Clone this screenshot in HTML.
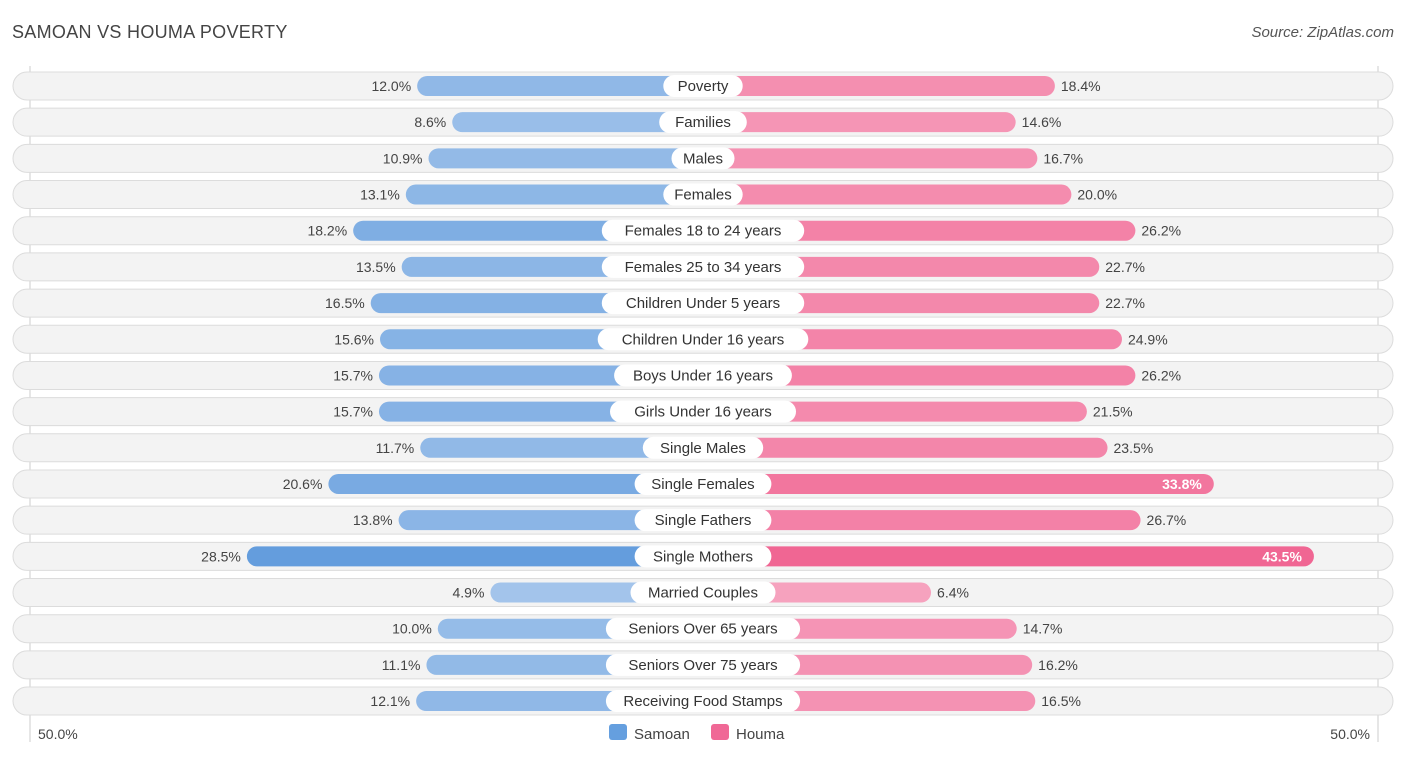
<!DOCTYPE html>
<html><head><meta charset="utf-8"><style>
body{margin:0;background:#fff;font-family:"Liberation Sans",sans-serif;}
#wrap{position:relative;width:1406px;height:758px;}
.title{position:absolute;left:12px;top:22px;font-size:18px;color:#444;letter-spacing:0.3px}
.src{position:absolute;right:12px;top:24px;font-size:15px;color:#555;font-style:italic}
</style></head><body><div id="wrap">
<div class="title">SAMOAN VS HOUMA POVERTY</div>
<div class="src">Source: ZipAtlas.com</div>
<svg id="svg" width="1406" height="758" style="position:absolute;left:0;top:0"></svg>
</div>
<script>
const categories=["Poverty","Families","Males","Females","Females 18 to 24 years","Females 25 to 34 years","Children Under 5 years","Children Under 16 years","Boys Under 16 years","Girls Under 16 years","Single Males","Single Females","Single Fathers","Single Mothers","Married Couples","Seniors Over 65 years","Seniors Over 75 years","Receiving Food Stamps"];
const samoan=[12.0,8.6,10.9,13.1,18.2,13.5,16.5,15.6,15.7,15.7,11.7,20.6,13.8,28.5,4.9,10.0,11.1,12.1];
const houma=[18.4,14.6,16.7,20.0,26.2,22.7,22.7,24.9,26.2,21.5,23.5,33.8,26.7,43.5,6.4,14.7,16.2,16.5];
const axisLabels=["50.0%","50.0%"];
const NS="http://www.w3.org/2000/svg";
const svg=document.getElementById('svg');
const cx=703,off=162,scale=10.32,y0=86,step=36.18;
function xL(v){return cx-off-v*scale;}
function xR(v){return cx+off+v*scale;}
function yRow(i){return y0+i*step;}
function mk(tag,attrs,parent){const e=document.createElementNS(NS,tag);for(const k in attrs)e.setAttribute(k,attrs[k]);(parent||svg).appendChild(e);return e;}
function mix(a,b,t){return 'rgb('+a.map((c,i)=>Math.round(c+(b[i]-c)*t)).join(',')+')';}
const line=mk('line',{x1:30,x2:30,y1:66,y2:742,stroke:'#ccc','stroke-width':1});

const line2=mk('line',{x1:1378,x2:1378,y1:66,y2:742,stroke:'#ccc','stroke-width':1});

categories.forEach((c,i)=>{
  const y=yRow(i);
  const g=mk('g',{});
  
  
  const bg=mk('rect',{x:13,y:y-14,width:1380,height:28,rx:14,fill:'#f3f3f3',stroke:'#dcdcdc','stroke-width':1},g);
  
  const s=samoan[i],h=houma[i];
  const bl=mk('rect',{x:xL(s),y:y-10,width:(cx-xL(s)),height:20,rx:10,fill:mix([176,204,238],[96,155,220],Math.min(1,s/30))},g);
  
  const br=mk('rect',{x:cx,y:y-10,width:xR(h)-cx,height:20,rx:10,fill:mix([247,172,198],[240,100,145],Math.min(1,h/45))},g);
  
  const tl=mk('text',{x:xL(s)-6,y:y+5,'text-anchor':'end','font-size':14,fill:'#444'},g);tl.textContent=s.toFixed(1)+'%';
  
  const inside=h>30;
  const tr=mk('text',{x:inside?xR(h)-12:xR(h)+6,y:y+5,'text-anchor':inside?'end':'start','font-size':14,fill:inside?'#fff':'#444','font-weight':inside?'bold':'normal'},g);tr.textContent=h.toFixed(1)+'%';
  
  const w=c.length*8.2+22;
  const lb=mk('rect',{x:cx-w/2,y:y-11,width:w,height:22,rx:11,fill:'#fff'},g);
  
  const lt=mk('text',{x:cx,y:y+5,'text-anchor':'middle','font-size':15,fill:'#333'},g);lt.textContent=c;
  
});
const a1=mk('text',{x:38,y:739,'font-size':14,fill:'#444'});a1.textContent=axisLabels[0];

const a2=mk('text',{x:1370,y:739,'font-size':14,fill:'#444','text-anchor':'end'});a2.textContent=axisLabels[1];

const l1=mk('rect',{x:609,y:724,width:18,height:16,rx:3,fill:'#659fdf'});

const lt1=mk('text',{x:634,y:739,'font-size':15,fill:'#444'});lt1.textContent='Samoan';

const l2=mk('rect',{x:711,y:724,width:18,height:16,rx:3,fill:'#f06896'});

const lt2=mk('text',{x:736,y:739,'font-size':15,fill:'#444'});lt2.textContent='Houma';

</script></body></html>
